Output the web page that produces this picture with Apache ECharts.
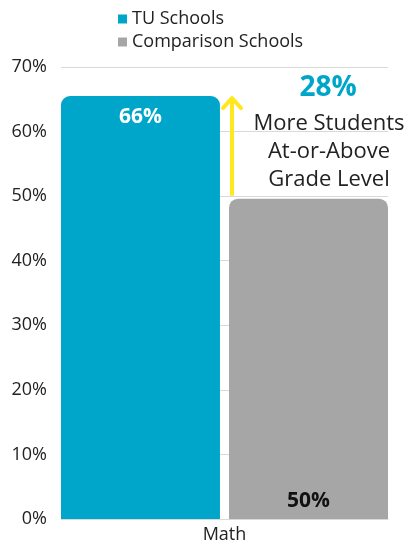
<!DOCTYPE html>
<html><head><meta charset="utf-8">
<script src="https://cdn.jsdelivr.net/npm/echarts@6/dist/echarts.min.js"></script>
<style>html,body{margin:0;padding:0;background:#fff}#c{width:409px;height:548px}</style>
</head><body><div id="c"></div>
<script>
const categories = ['Math'];
const seriesNames = ['TU Schools', 'Comparison Schools'];
const tuValues = [65.5];
const compValues = [49.6];
const yTicks = [0, 10, 20, 30, 40, 50, 60, 70];
const annotationLines = ['28%', 'More Students', 'At-or-Above', 'Grade Level'];

const FONT = '"Open Sans", sans-serif';
const chart = echarts.init(document.getElementById('c'));
chart.setOption({
  animation: false,
  textStyle: {fontFamily: FONT},
  legend: {
    orient: 'vertical', left: 113, top: 5, itemWidth: 9, itemHeight: 9, itemGap: 5,
    icon: 'rect',
    textStyle: {fontSize: 18, color: '#222', fontFamily: FONT},
    data: seriesNames
  },
  grid: {left: 61, right: 21, top: 67, bottom: 29},
  xAxis: {
    type: 'category', data: categories,
    axisLine: {lineStyle: {color: '#d9d9d9'}}, axisTick: {show: false},
    axisLabel: {fontSize: 18, color: '#222', margin: 7, fontFamily: FONT}
  },
  yAxis: {
    type: 'value', min: yTicks[0], max: yTicks[yTicks.length - 1], interval: 10,
    axisLabel: {formatter: v => v + '%', fontSize: 18, color: '#222', margin: 14, fontFamily: FONT},
    splitLine: {lineStyle: {color: '#d9d9d9'}}
  },
  series: [
    {name: seriesNames[0], type: 'bar', data: tuValues, barWidth: 159, barGap: '5.7%',
     itemStyle: {color: '#00A6CA', borderRadius: [9, 9, 0, 0]},
     label: {show: true, position: 'insideTop', distance: 10, formatter: p => Math.round(p.value) + '%',
       color: '#fff', fontWeight: 'bold', fontSize: 21, fontFamily: FONT}},
    {name: seriesNames[1], type: 'bar', data: compValues, barWidth: 159,
     itemStyle: {color: '#A6A6A6', borderRadius: [9, 9, 0, 0]},
     label: {show: true, position: 'insideBottom', distance: 7, formatter: p => Math.round(p.value) + '%',
       color: '#111', fontWeight: 'bold', fontSize: 21, fontFamily: FONT}}
  ]
});

const yTop = chart.convertToPixel({yAxisIndex: 0}, tuValues[0]);
const yBot = chart.convertToPixel({yAxisIndex: 0}, compValues[0]);
const ax = 232;
chart.setOption({
  graphic: [
    {type: 'line', shape: {x1: ax, y1: yBot - 3, x2: ax, y2: yTop + 4}, style: {stroke: '#FFE81F', lineWidth: 4}},
    {type: 'polyline', shape: {points: [[ax - 9, yTop + 12], [ax, yTop + 2], [ax + 9, yTop + 12]]},
     style: {stroke: '#FFE81F', lineWidth: 4, fill: null, lineJoin: 'round', lineCap: 'round'}},
    {type: 'text', x: 328, y: 88, style: {text: annotationLines[0], fill: '#00A6CA', font: 'bold 28px ' + FONT, textAlign: 'center', textVerticalAlign: 'middle'}},
    {type: 'text', x: 329, y: 124, style: {text: annotationLines[1], fill: '#222', font: '22px ' + FONT, textAlign: 'center', textVerticalAlign: 'middle'}},
    {type: 'text', x: 329, y: 152, style: {text: annotationLines[2], fill: '#222', font: '22px ' + FONT, textAlign: 'center', textVerticalAlign: 'middle'}},
    {type: 'text', x: 329, y: 180, style: {text: annotationLines[3], fill: '#222', font: '22px ' + FONT, textAlign: 'center', textVerticalAlign: 'middle'}}
  ]
});
</script></body></html>
